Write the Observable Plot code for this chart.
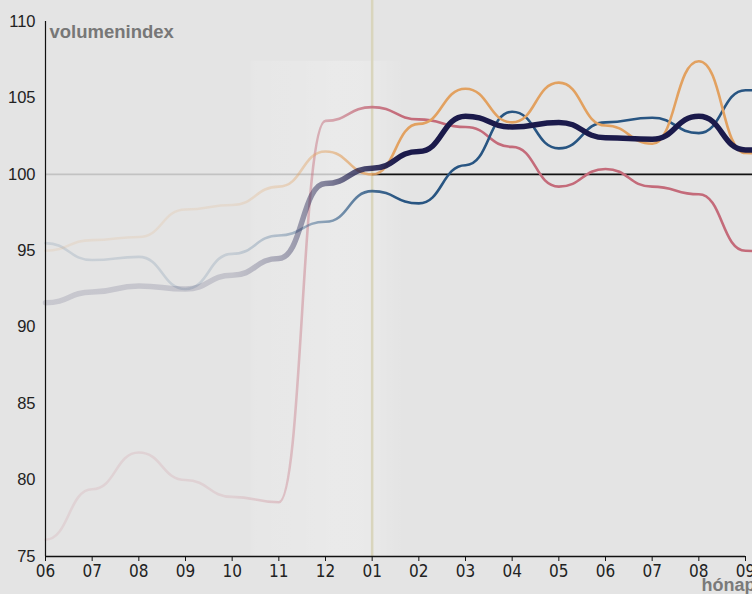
<!DOCTYPE html>
<html>
<head>
<meta charset="utf-8">
<script src="https://cdn.jsdelivr.net/npm/d3@7"></script>
<script src="https://cdn.jsdelivr.net/npm/@observablehq/plot@0.6"></script>
<style>
  html, body { margin: 0; padding: 0; background: #e4e4e4; overflow: hidden; }
  #chart svg { background: transparent; display: block; }
</style>
</head>
<body>
<div id="chart"></div>
<script>
// Month tick labels (index 0..15); index 16 is the next month, beyond the visible edge
const months = ["06","07","08","09","10","11","12","01","02","03","04","05","06","07","08","09"];

// Series values (volume index), one per month
const seriesTotal  = [91.6, 92.3, 92.7, 92.5, 93.4, 94.5, 99.4, 100.4, 101.5, 103.8, 103.1, 103.4, 102.4, 102.3, 103.8, 101.6, 101.4];
const seriesOrange = [95.0, 95.7, 95.9, 97.7, 98.0, 99.2, 101.5, 100.0, 103.3, 105.6, 103.4, 106.0, 103.2, 102.0, 107.4, 101.4, 101.0];
const seriesBlue   = [95.5, 94.4, 94.6, 92.5, 94.8, 96.0, 96.9, 98.9, 98.1, 100.6, 104.1, 101.7, 103.4, 103.7, 102.7, 105.5, 105.6];
const seriesPink   = [76.1, 79.4, 81.8, 80.0, 78.9, 78.55, 103.5, 104.4, 103.6, 103.1, 101.8, 99.2, 100.35, 99.2, 98.7, 95.0, 94.6];

const seriesColors = {total: "#1b1a4b", orange: "#e2a160", blue: "#285582", pink: "#c46b7a"};

const yTicks = [75, 80, 85, 90, 95, 100, 105, 110];
const baseLine = 100;
const markerMonth = 7;       // "01" – start of the year
const markerTop = 111.4;
const bandRange = [{x1: 4.4, x2: 7.7, y1: 75, y2: 107.4}];

const toRows = arr => arr.map((v, i) => ({i, v}));

// opacity of the lines along the time axis (month index -> opacity)
const fadeStops = [[0, 0.14], [4, 0.16], [5, 0.3], [6, 0.5], [7, 0.85], [7.6, 1], [15, 1]];

const curve = "bump-x";

const plot = Plot.plot({
  width: 752,
  height: 594,
  marginLeft: 45,
  marginRight: 7,
  marginTop: 21,
  marginBottom: 38,
  style: {background: "transparent", fontFamily: "'Liberation Sans', Arial, sans-serif", fontSize: "16px", color: "#222"},
  x: {domain: [0, 15], axis: null},
  y: {domain: [75, 110], axis: null},
  marks: [
    Plot.rect(bandRange, {x1: "x1", x2: "x2", y1: "y1", y2: "y2", fill: "url(#bandGrad)"}),
    Plot.ruleX([markerMonth], {y1: 75, y2: markerTop, stroke: "#d9d5bd", strokeWidth: 2.5}),
    Plot.ruleY([{x1: 0, x2: markerMonth}], {y: () => baseLine, x1: "x1", x2: "x2", stroke: "#c2c2c2", strokeWidth: 1.6}),
    Plot.ruleY([{x1: markerMonth, x2: 16}], {y: () => baseLine, x1: "x1", x2: "x2", stroke: "#111", strokeWidth: 1.6}),
    Plot.line(toRows(seriesPink),   {x: "i", y: "v", stroke: "url(#g-pink)",   strokeWidth: 2.6, curve}),
    Plot.line(toRows(seriesBlue),   {x: "i", y: "v", stroke: "url(#g-blue)",   strokeWidth: 2.6, curve}),
    Plot.line(toRows(seriesOrange), {x: "i", y: "v", stroke: "url(#g-orange)", strokeWidth: 2.6, curve}),
    Plot.line(toRows(seriesTotal),  {x: "i", y: "v", stroke: "url(#g-total)",  strokeWidth: 5.5, curve}),
    Plot.ruleX([0], {y1: 75, y2: 110, stroke: "#111", strokeWidth: 1.2}),
    Plot.ruleY([75], {stroke: "#111", strokeWidth: 1.6}),
    Plot.axisY(yTicks, {tickSize: 0, tickPadding: 10, fontSize: 16.5, fill: "#222", label: null}),
    Plot.axisX(d3.range(months.length), {tickSize: 5, tickPadding: 3, fontSize: 17, fill: "#222", stroke: "#111",
      fontFamily: "'DejaVu Sans Condensed', 'Liberation Sans Narrow', sans-serif",
      tickFormat: i => months[i], label: null}),
    Plot.text(["volumenindex"], {frameAnchor: "top-left", dx: 4, dy: 3, lineAnchor: "top", textAnchor: "start",
      fill: "#777", fontWeight: "bold", fontSize: 18.5}),
    Plot.text(["hónap"], {frameAnchor: "bottom-right", dx: 10, dy: 34, lineAnchor: "bottom", textAnchor: "end",
      fill: "#7a7a7a", fontWeight: "bold", fontSize: 18})
  ]
});

// gradients built from the x scale
const xs = plot.scale("x");
const svg = d3.select(plot);
const defs = svg.insert("defs", ":first-child");
for (const [key, color] of Object.entries(seriesColors)) {
  const g = defs.append("linearGradient").attr("id", "g-" + key)
    .attr("gradientUnits", "userSpaceOnUse")
    .attr("x1", xs.apply(0)).attr("x2", xs.apply(15)).attr("y1", 0).attr("y2", 0);
  fadeStops.forEach(([i, o]) => g.append("stop").attr("offset", i / 15).attr("stop-color", color).attr("stop-opacity", o));
}
const bg = defs.append("linearGradient").attr("id", "bandGrad");
[[0, 0.08], [0.06, 0.12], [0.3, 0.15], [0.55, 0.22], [0.78, 0.2], [0.9, 0.08], [1, 0]].forEach(([o, a]) =>
  bg.append("stop").attr("offset", o).attr("stop-color", "#fff").attr("stop-opacity", a));

document.getElementById("chart").appendChild(plot);
</script>
</body>
</html>
